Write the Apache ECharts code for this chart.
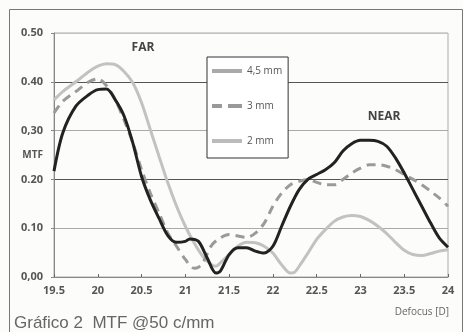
<!DOCTYPE html>
<html>
<head>
<meta charset="utf-8">
<script src="https://cdn.jsdelivr.net/npm/echarts@6/dist/echarts.min.js"></script>
<style>html,body{margin:0;padding:0;background:#fcfcfb;}#c{width:463px;height:332px;}</style>
</head>
<body>
<div id="c"></div>
<script>
var defocus = [19.5,19.6,19.75,19.9,20.0,20.1,20.2,20.3,20.4,20.5,20.6,20.7,20.8,20.9,21.0,21.05,21.15,21.25,21.35,21.4,21.5,21.6,21.7,21.8,21.9,22.0,22.1,22.2,22.3,22.4,22.5,22.6,22.7,22.8,22.9,23.0,23.1,23.2,23.3,23.4,23.5,23.6,23.7,23.8,23.9,24.0];
var mtf45 = [0.217,0.295,0.350,0.374,0.384,0.385,0.363,0.330,0.275,0.206,0.158,0.120,0.085,0.071,0.073,0.078,0.073,0.039,0.008,0.012,0.046,0.060,0.060,0.053,0.049,0.063,0.104,0.145,0.179,0.200,0.210,0.220,0.234,0.258,0.273,0.280,0.280,0.278,0.268,0.244,0.213,0.179,0.145,0.111,0.080,0.061];

var defocus3 = [19.5,19.6,19.75,19.9,20.0,20.1,20.2,20.3,20.4,20.5,20.6,20.7,20.8,20.9,21.0,21.1,21.15,21.2,21.3,21.4,21.5,21.6,21.7,21.8,21.9,22.0,22.1,22.2,22.3,22.4,22.5,22.6,22.7,22.8,22.9,23.0,23.1,23.2,23.3,23.4,23.5,23.6,23.7,23.8,23.9,24.0];
var mtf3 = [0.336,0.360,0.380,0.400,0.406,0.392,0.363,0.322,0.275,0.220,0.172,0.131,0.090,0.063,0.036,0.018,0.020,0.029,0.065,0.080,0.087,0.084,0.081,0.090,0.110,0.145,0.172,0.189,0.196,0.200,0.194,0.189,0.189,0.200,0.213,0.223,0.230,0.230,0.227,0.220,0.210,0.200,0.189,0.176,0.162,0.145];

var defocus2 = [19.5,19.6,19.75,19.9,20.0,20.1,20.2,20.3,20.4,20.5,20.6,20.7,20.8,20.9,21.0,21.1,21.2,21.3,21.35,21.4,21.5,21.6,21.7,21.8,21.9,22.0,22.1,22.2,22.25,22.3,22.4,22.5,22.6,22.7,22.8,22.9,23.0,23.1,23.2,23.3,23.4,23.5,23.6,23.7,23.8,23.9,24.0];
var mtf2 = [0.363,0.380,0.400,0.421,0.432,0.437,0.435,0.421,0.398,0.357,0.302,0.247,0.193,0.145,0.104,0.070,0.042,0.025,0.022,0.029,0.046,0.063,0.071,0.070,0.063,0.049,0.025,0.008,0.010,0.022,0.049,0.077,0.097,0.114,0.123,0.126,0.124,0.116,0.104,0.089,0.071,0.055,0.046,0.044,0.048,0.053,0.056];

var seriesNames = ['4,5 mm','3 mm','2 mm'];
var yTickLabels = ['0,00','0.10','0.20','0,30','0.40','0.50'];

function pairs(xs, ys){ return xs.map(function(x,i){ return [x, ys[i]]; }); }

var chart = echarts.init(document.getElementById('c'));
var labelFont = {color:'#555', fontSize:11, fontWeight:'bold', fontFamily:'Open Sans'};
chart.setOption({
  backgroundColor:'#fcfcfb',
  animation:false,
  grid:{left:54, right:15, top:33, bottom:55, show:true, borderColor:'#aaa', borderWidth:1},
  xAxis:{
    type:'value', min:19.5, max:24, interval:0.5,
    axisLine:{lineStyle:{color:'#888'}},
    axisTick:{inside:true, length:3, lineStyle:{color:'#666'}},
    axisLabel:Object.assign({margin:8}, labelFont),
    splitLine:{show:false}
  },
  yAxis:{
    type:'value', min:0, max:0.5, interval:0.1,
    axisLine:{show:true, lineStyle:{color:'#888'}},
    axisTick:{show:true, length:3, lineStyle:{color:'#888'}},
    axisLabel:Object.assign({margin:11, formatter:function(v){ return yTickLabels[Math.round(v*10)]; }}, labelFont),
    splitLine:{show:true, lineStyle:{color:['#999','#aaa','#555','#aaa','#555','#c4c4c4'], width:1}}
  },
  legend:{
    orient:'vertical', left:207, top:57,
    backgroundColor:'#fff', borderColor:'#333', borderWidth:1,
    padding:[9,6,12,5], itemGap:25, itemWidth:30, itemHeight:4,
    symbolKeepAspect:false,
    textStyle:{color:'#555', fontSize:10, fontFamily:'Open Sans'},
    data:[
      {name:seriesNames[0], icon:'rect', itemStyle:{color:'#aaa'}},
      {name:seriesNames[1], icon:'path://M0,0H10V4H0Z M16,0H30V4H16Z', itemStyle:{color:'#999'}},
      {name:seriesNames[2], icon:'rect', itemStyle:{color:'#bbb'}}
    ]
  },
  series:[
    {name:seriesNames[2], type:'line', smooth:0.3, symbol:'none', data:pairs(defocus2, mtf2), lineStyle:{color:'#c2c2c2', width:3}, itemStyle:{color:'#c2c2c2'}, z:2},
    {name:seriesNames[1], type:'line', smooth:0.3, symbol:'none', data:pairs(defocus3, mtf3), lineStyle:{color:'#9a9a9a', width:3, type:[9,6]}, itemStyle:{color:'#9a9a9a'}, z:3},
    {name:seriesNames[0], type:'line', smooth:0.3, symbol:'none', data:pairs(defocus, mtf45), lineStyle:{color:'#222', width:3}, itemStyle:{color:'#222'}, z:4}
  ],
  graphic:[
    {type:'rect', left:7, top:7, shape:{width:453, height:340}, style:{fill:'none', stroke:'#777', lineWidth:1}, z:-1, silent:true},
    {type:'text', x:143, y:48, style:{text:'FAR', fill:'#444', font:'bold 12px "Open Sans"', align:'center', verticalAlign:'middle'}},
    {type:'text', x:384, y:117, style:{text:'NEAR', fill:'#444', font:'bold 12px "Open Sans"', align:'center', verticalAlign:'middle'}},
    {type:'text', x:43, y:155, style:{text:'MTF', fill:'#555', font:'bold 10px "Open Sans"', align:'right', verticalAlign:'middle'}},
    {type:'text', x:449, y:312, style:{text:'Defocus [D]', fill:'#666', font:'10px "Open Sans"', align:'right', verticalAlign:'middle'}},
    {type:'text', x:14, y:323, style:{text:'Gráfico 2  MTF @50 c/mm', fill:'#666', font:'17px "Liberation Sans"', align:'left', verticalAlign:'middle'}}
  ]
});
</script>
</body>
</html>
